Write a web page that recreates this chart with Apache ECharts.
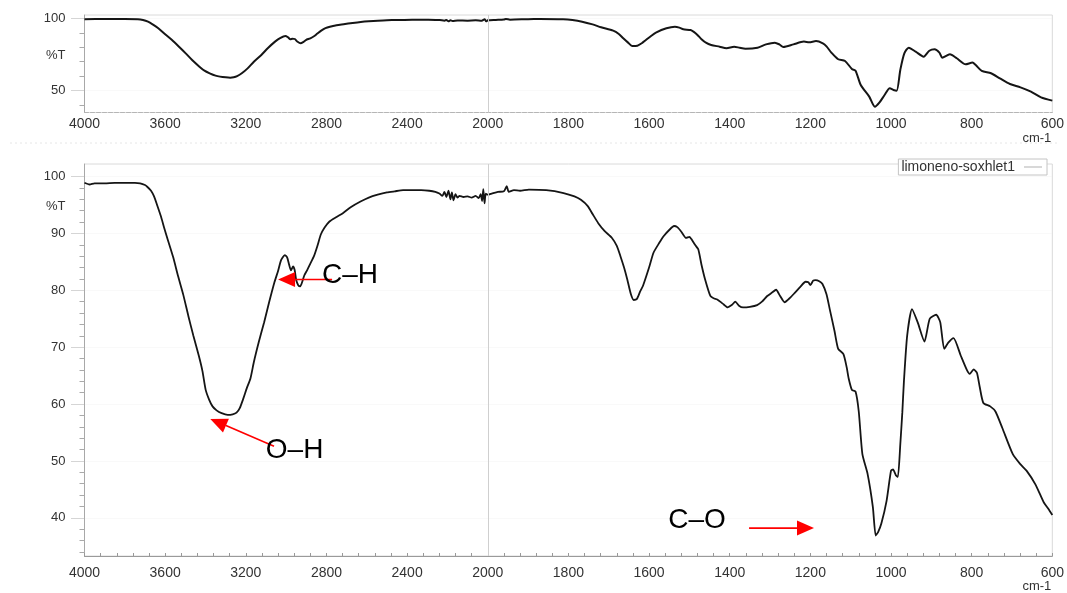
<!DOCTYPE html>
<html><head><meta charset="utf-8">
<script src="https://cdn.jsdelivr.net/npm/echarts@6/dist/echarts.min.js"></script>
<style>html,body{margin:0;padding:0;background:#fff}#c{width:1067px;height:593px}</style>
</head><body><div id="c"></div><script>
// ---- data (wavenumber cm-1, %T) ----
const topWavenumbers = [4000,3900,3800,3736,3710,3685,3660,3634,3600,3566,3530,3498,3465,3430,3405,3379,3350,3328,3300,3277,3260,3243,3220,3191,3160,3123,3090,3055,3030,3004,2990,2979,2968,2957,2945,2928,2915,2902,2880,2860,2845,2826,2805,2783,2750,2715,2670,2630,2590,2545,2500,2460,2375,2300,2238,2215,2205,2195,2185,2175,2150,2100,2060,2030,2015,2008,2000,1980,1960,1955,1945,1900,1871,1813,1790,1766,1740,1719,1689,1675,1664,1652,1642,1629,1618,1608,1595,1583,1557,1536,1525,1515,1497,1489,1480,1470,1459,1446,1425,1408,1389,1375,1361,1331,1310,1288,1277,1267,1242,1216,1203,1186,1169,1160,1148,1131,1114,1097,1088,1075,1054,1040,1029,1016,1003,994,986,977,967,956,939,919,905,892,880,873,854,837,815,798,790,775,752,730,705,679,653,628,600];
const topTransmittance = [99.4,99.5,99.5,99.4,98.9,97.7,95.6,93.1,89.0,85.0,80.2,75.8,71.0,66.6,63.8,62.0,60.4,59.7,59.2,59.0,59.3,60.1,62.0,65.4,70.0,74.7,79.5,83.9,86.3,87.8,86.8,85.5,85.9,85.7,84.0,82.7,83.6,85.0,86.2,87.8,89.5,91.5,93.2,94.2,95.2,95.9,96.8,97.5,98.0,98.4,98.7,98.8,99.1,99.0,98.8,98.4,98.9,97.9,98.6,98.2,98.5,98.4,98.6,98.3,99.4,97.9,98.6,98.9,99.2,99.6,99.1,99.4,99.5,99.3,98.8,97.7,95.8,93.8,91.5,89.2,86.2,83.2,80.9,81.1,82.8,85.0,87.8,90.1,93.1,94.2,93.6,92.4,91.9,90.6,88.5,85.6,83.2,81.6,80.4,79.3,80.4,79.6,79.0,79.7,82.0,83.2,82.0,80.2,82.0,83.9,83.4,84.3,82.7,80.6,76.3,71.7,70.5,65.0,63.8,53.9,45.9,38.9,41.7,47.0,51.6,50.5,50.0,64.3,75.8,79.7,77.0,73.5,77.6,78.6,76.3,72.8,75.1,72.4,68.2,69.4,67.7,63.6,62.0,58.5,54.6,52.3,49.3,45.4,43.1];

const bottomWavenumbers = [4000,3975,3950,3900,3850,3800,3750,3724,3700,3689,3670,3655,3640,3621,3605,3587,3560,3536,3510,3485,3460,3433,3415,3399,3382,3365,3345,3320,3290,3265,3246,3230,3212,3195,3177,3160,3135,3109,3085,3058,3040,3025,3007,2995,2985,2976,2966,2958,2950,2940,2930,2920,2910,2895,2880,2862,2845,2828,2810,2785,2750,2717,2680,2631,2590,2546,2500,2461,2420,2375,2330,2290,2260,2240,2225,2215,2205,2195,2185,2178,2170,2160,2150,2140,2120,2100,2080,2060,2045,2035,2028,2022,2016,2010,2000,1990,1975,1960,1953,1948,1935,1920,1898,1855,1812,1785,1769,1752,1740,1726,1710,1692,1680,1671,1662,1654,1645,1638,1630,1622,1615,1600,1589,1575,1564,1550,1538,1530,1520,1508,1500,1495,1486,1478,1470,1461,1448,1440,1431,1418,1405,1395,1386,1377,1367,1350,1332,1320,1307,1295,1285,1275,1264,1250,1238,1225,1212,1205,1200,1193,1187,1178,1170,1160,1152,1140,1131,1118,1110,1105,1097,1088,1080,1071,1058,1045,1038,1032,1024,1011,1000,995,988,983,977,972,968,960,948,934,917,904,888,878,868,858,845,827,812,805,795,787,780,771,754,741,724,698,680,664,642,621,610,600];
const bottomTransmittance = [98.9,98.6,98.8,98.8,98.9,98.9,98.9,98.8,98.5,98.2,97.5,96.5,95.0,93.0,91.0,88.9,85.8,82.5,79.2,75.5,72.0,68.5,65.8,62.5,60.8,59.6,58.9,58.4,58.1,58.2,58.5,59.3,61.0,62.8,64.5,67.4,71.0,74.4,77.8,81.4,83.4,85.3,86.2,85.8,84.5,83.5,84.2,83.6,81.8,80.9,80.7,81.5,82.6,83.6,84.7,86.0,87.8,89.8,91.0,92.1,92.9,93.6,94.6,95.6,96.3,96.8,97.2,97.4,97.6,97.6,97.6,97.5,97.3,97.0,96.6,97.3,96.4,97.5,96.0,97.2,95.8,96.9,96.3,96.6,96.4,96.5,96.3,96.6,96.2,96.9,95.7,97.8,95.3,97.0,96.8,97.0,97.3,97.4,98.3,97.3,97.6,97.5,97.7,97.6,97.1,96.5,95.9,94.8,93.4,91.8,90.4,89.2,87.8,86.0,84.0,81.9,79.3,78.3,78.5,79.8,80.8,84.0,86.6,88.3,89.5,90.6,91.3,91.1,90.3,89.2,89.4,89.0,88.0,87.2,84.5,81.9,79.0,78.6,78.4,77.7,77.0,77.4,78.0,77.3,77.0,77.1,77.4,78.0,79.0,79.6,80.1,79.0,77.9,78.7,79.6,80.6,81.5,81.4,80.9,81.7,81.8,81.6,81.1,79.3,76.7,72.8,69.7,68.8,66.5,64.5,62.5,62.2,58.7,51.2,47.7,41.9,36.9,37.5,39.0,43.0,48.3,48.5,47.5,47.2,52.9,58.5,64.0,72.0,76.7,74.4,71.0,75.0,75.7,74.4,69.7,70.8,71.6,68.5,66.0,65.3,66.1,65.5,63.0,60.2,59.6,58.7,55.8,51.2,49.5,48.3,45.9,42.7,41.6,40.5];

const xTickLabels = [4000,3600,3200,2800,2400,2000,1800,1600,1400,1200,1000,800,600];
const topYLabels = [50,100];
const topYMinorTicks = [40,60,70,80,90];
const bottomYLabels = [40,50,60,70,80,90,100];
const bottomYMinorTicks = [34,36,38,42,44,46,48,52,54,56,58,62,64,66,68,72,74,76,78,82,84,86,88,92,94,96,98];
const seriesName = 'limoneno-soxhlet1';
const annotations = [
  {text:'C–H', textAt:[2683,82.7], from:[2772,81.9], to:[3040,81.9]},
  {text:'O–H', textAt:[2958,51.9], from:[3060,52.6], to:[3376,57.4]},
  {text:'C–O', textAt:[1481,39.5], from:[1352,38.2], to:[1191,38.2]}
];

// axis break: 4000-2000 at half scale, 2000-600 at full scale
function toAxis(w){ return w >= 2000 ? (4000 - w) / 2 : 1000 + (2000 - w); }
function fromAxis(t){ return t <= 1000 ? Math.round(4000 - 2 * t) : Math.round(2000 - (t - 1000)); }

const FONT = '"Liberation Sans", Arial, sans-serif';
const topData = topWavenumbers.map((w,i)=>[toAxis(w), topTransmittance[i]]);
const bottomData = bottomWavenumbers.map((w,i)=>[toAxis(w), bottomTransmittance[i]]);

const chart = echarts.init(document.getElementById('c'), null, {renderer:'canvas'});

function xAxisCfg(gi, isBottom){
  return {
    type:'value', gridIndex: gi, min: 0, max: 2400, interval: 40,
    axisLine:{show:true, lineStyle:{color: isBottom ? '#9a9a9a' : '#b5b5b5', width:1, type: isBottom ? 'solid' : 'dashed'}},
    axisTick:{show:isBottom, inside:true, length:3, lineStyle:{color:'#999'}},
    axisLabel:{customValues: xTickLabels.map(toAxis), formatter: v => String(fromAxis(v)),
      fontSize:14, color:'#333', fontFamily:FONT, margin: isBottom ? 10 : 5},
    splitLine:{show:false},
    name:'cm-1', nameLocation:'end', nameGap:-1,
    nameTextStyle:{fontSize:13, color:'#333', fontFamily:FONT, align:'right', verticalAlign:'top',
      padding:[isBottom ? 24 : 19, 0, 0, 0]}
  };
}
function yMainCfg(gi, min, max, labels, labelPctT){
  return {
    type:'value', gridIndex: gi, min, max, position:'left',
    axisLine:{show:true, lineStyle:{color:'#a8a8a8'}},
    axisTick:{show:true, customValues: labels, length:14, lineStyle:{color:'#aaa', type:'dotted'}},
    axisLabel:{customValues: labels.concat([labelPctT]), fontSize:13, color:'#333', fontFamily:FONT, margin:19,
      formatter: v => (Math.abs(v - labelPctT) < 0.01 ? '%T' : String(Math.round(v)))},
    splitLine:{show:true, lineStyle:{color:'#f3f3f3', type:'dotted'}}
  };
}
function yMinorCfg(gi, min, max, ticks){
  return {
    type:'value', gridIndex: gi, min, max, position:'left', offset:0,
    axisLine:{show:false}, axisLabel:{show:false}, splitLine:{show:false},
    axisTick:{show:true, customValues: ticks, length:5, lineStyle:{color:'#aaa'}}
  };
}

const mark2000 = {silent:true, symbol:'none', label:{show:false},
  lineStyle:{color:'#cfcfcf', width:1, type:'solid'}, data:[{xAxis: toAxis(2000)}]};

chart.setOption({
  animation:false,
  backgroundColor:'#fff',
  grid:[
    {left:84.5, right:14.5, top:15, height:97.5, show:true, borderColor:'#dadada', borderWidth:1},
    {left:84.5, right:14.5, top:164, height:395, show:true, borderColor:'#dadada', borderWidth:1}
  ],
  xAxis:[xAxisCfg(0,false), xAxisCfg(1,true)],
  yAxis:[
    yMainCfg(0, 34.9, 102.3, topYLabels, 74.7),
    yMinorCfg(0, 34.9, 102.3, topYMinorTicks),
    yMainCfg(1, 33.3, 102.2, bottomYLabels, 94.7),
    yMinorCfg(1, 33.3, 102.2, bottomYMinorTicks)
  ],
  legend:{
    data:[{name: seriesName, icon:'rect', itemStyle:{color:'#b0b0b0'}}],
    right:20, top:159, align:'right', itemWidth:18, itemHeight:1, itemGap:6,
    padding:[1,5,1,3], borderColor:'#c4c4c4', borderWidth:1, backgroundColor:'#fff',
    textStyle:{fontSize:14, color:'#333', fontFamily:FONT, padding:[0,4,0,0]},
    selectedMode:false
  },
  series:[
    {name:'top spectrum', type:'line', xAxisIndex:0, yAxisIndex:0, data: topData, showSymbol:false,
      smooth:0.25, lineStyle:{color:'#151515', width:2}, itemStyle:{color:'#151515'}, markLine: mark2000, z:3},
    {name: seriesName, type:'line', xAxisIndex:1, yAxisIndex:2, data: bottomData, showSymbol:false,
      smooth:0.2, lineStyle:{color:'#151515', width:1.8}, itemStyle:{color:'#151515'}, markLine: mark2000, z:3}
  ]
});

// annotations: arrows and labels, anchored in data space of the bottom panel
function px(p){ return chart.convertToPixel({xAxisIndex:1, yAxisIndex:2}, [toAxis(p[0]), p[1]]); }
const graphics = [
  {type:'line', shape:{x1:10, y1:143, x2:1060, y2:143}, style:{stroke:'#e6e6e6', lineWidth:1, lineDash:[2,3]}, silent:true}
];
annotations.forEach(a => {
  const s = px(a.from), t = px(a.to), c = px(a.textAt);
  const dx = t[0]-s[0], dy = t[1]-s[1], L = Math.hypot(dx,dy);
  const ux = dx/L, uy = dy/L, nx = -uy, ny = ux;
  const hl = 17, hw = 7.5;
  const bx = t[0]-ux*hl, by = t[1]-uy*hl;
  graphics.push({type:'line', shape:{x1:s[0], y1:s[1], x2:bx, y2:by}, style:{stroke:'#ff0000', lineWidth:1.6}, z:10});
  graphics.push({type:'polygon', shape:{points:[[t[0],t[1]],[bx+nx*hw, by+ny*hw],[bx-nx*hw, by-ny*hw]]}, style:{fill:'#ff0000'}, z:10});
  graphics.push({type:'text', x:c[0], y:c[1], z:11, style:{text:a.text, fill:'#000', fontSize:28, fontFamily:FONT, align:'center', verticalAlign:'middle'}});
});
chart.setOption({graphic: graphics});
</script></body></html>
